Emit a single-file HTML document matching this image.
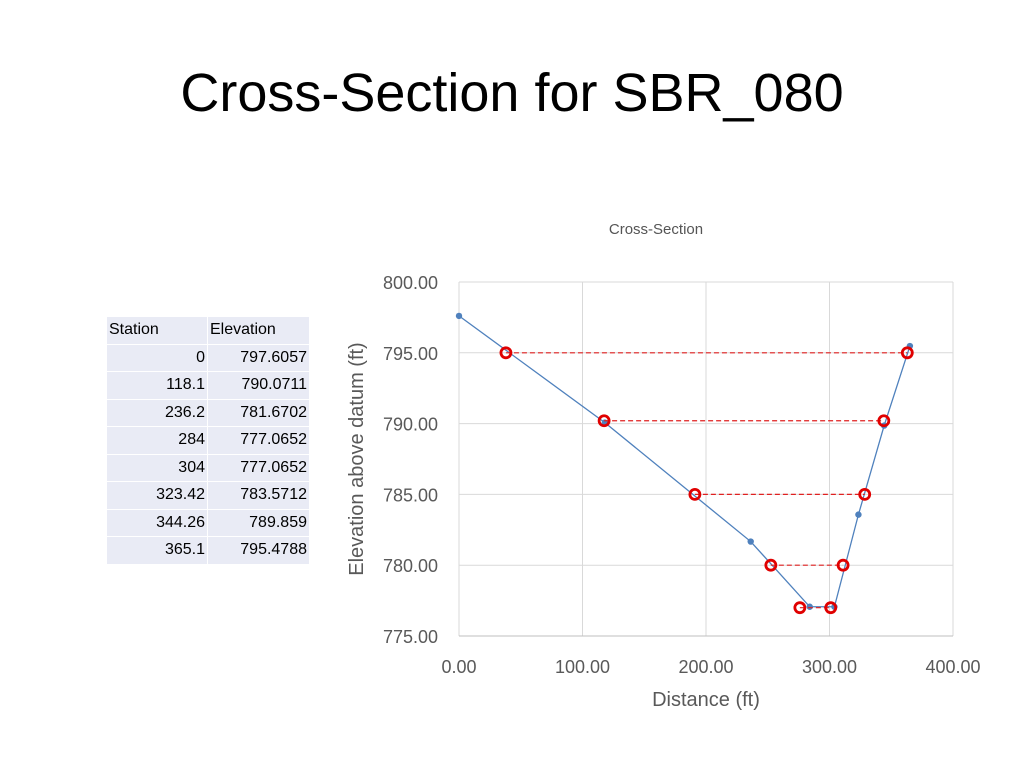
<!DOCTYPE html>
<html><head><meta charset="utf-8"><style>
body{margin:0;width:1024px;height:768px;background:#fff;font-family:"Liberation Sans",sans-serif;overflow:hidden;position:relative}
h1{position:absolute;left:0;width:1024px;top:62px;margin:0;text-align:center;font-weight:normal;font-size:54px;color:#000}
table{position:absolute;left:106px;top:316px;border-collapse:collapse;font-size:16px}
td{background:#e9ebf5;height:26.5px;padding:0 2px;border:1.5px solid #fff}
td.a{width:96px;text-align:right}td.b{width:97px;text-align:right}
tr.h td{text-align:left;background:#e9ebf5}
</style></head><body>
<h1>Cross-Section for SBR_080</h1>
<table>
<tr class="h"><td class="a" style="text-align:left">Station</td><td class="b" style="text-align:left">Elevation</td></tr>
<tr><td class="a">0</td><td class="b">797.6057</td></tr>
<tr><td class="a">118.1</td><td class="b">790.0711</td></tr>
<tr><td class="a">236.2</td><td class="b">781.6702</td></tr>
<tr><td class="a">284</td><td class="b">777.0652</td></tr>
<tr><td class="a">304</td><td class="b">777.0652</td></tr>
<tr><td class="a">323.42</td><td class="b">783.5712</td></tr>
<tr><td class="a">344.26</td><td class="b">789.859</td></tr>
<tr><td class="a">365.1</td><td class="b">795.4788</td></tr>
</table>
<svg id="chart" width="1024" height="768" style="position:absolute;left:0;top:0" font-family="Liberation Sans, sans-serif"></svg>
<script>
const stations=[0,118.1,236.2,284,304,323.42,344.26,365.1];
const elevations=[797.6057,790.0711,781.6702,777.0652,777.0652,783.5712,789.859,795.4788];
const waterLevels=[795,790.2,785,780,777];
const leftX=[38,117.5,191,252.5,276];
const rightX=[363,344,328.5,311,301];
const xTicks=[0,100,200,300,400];
const yTicks=[775,780,785,790,795,800];
const X=v=>459+(v-0)*(953-459)/400;
const Y=v=>636-(v-775)*(636-282)/25;
const svg=document.getElementById('chart');
const NS='http://www.w3.org/2000/svg';
function mk(t,a,txt){const e=document.createElementNS(NS,t);for(const k in a)e.setAttribute(k,a[k]);if(txt!==undefined)e.textContent=txt;svg.appendChild(e);return e;}
let e;
e=mk('text',{x:656,y:234,'text-anchor':'middle','font-size':15,fill:'#555'},'Cross-Section');


xTicks.forEach(t=>{
 e=mk('line',{x1:X(t),x2:X(t),y1:Y(800),y2:Y(775),stroke:'#d9d9d9'});
 
 
 e=mk('text',{x:X(t),y:673,'text-anchor':'middle','font-size':18,fill:'#595959'},t.toFixed(2));
 
 
});
yTicks.forEach(t=>{
 e=mk('line',{x1:X(0),x2:X(400),y1:Y(t),y2:Y(t),stroke:'#d9d9d9'});
 
 
 e=mk('text',{x:438,y:Y(t)+7,'text-anchor':'end','font-size':18,fill:'#595959'},t.toFixed(2));
 
 
});
e=mk('line',{x1:X(0),x2:X(400),y1:Y(775),y2:Y(775),stroke:'#bfbfbf'});


e=mk('text',{x:706,y:706,'text-anchor':'middle','font-size':20,fill:'#595959'},'Distance (ft)');


e=mk('text',{x:0,y:0,'text-anchor':'middle','font-size':20,fill:'#595959',transform:'translate(363,459) rotate(-90)'},'Elevation above datum (ft)');


e=mk('polyline',{points:stations.map((s,i)=>X(s)+','+Y(elevations[i])).join(' '),fill:'none',stroke:'#4f81bd','stroke-width':1.3});


stations.forEach((s,i)=>{
 e=mk('circle',{cx:X(s),cy:Y(elevations[i]),r:3.2,fill:'#4f81bd'});
 
 
});
waterLevels.forEach((w,i)=>{
 e=mk('line',{x1:X(leftX[i]),x2:X(rightX[i]),y1:Y(w),y2:Y(w),stroke:'#e02020','stroke-width':1.2,'stroke-dasharray':'5,3'});
 
 
 [leftX[i],rightX[i]].forEach(x=>{
  e=mk('circle',{cx:X(x),cy:Y(w),r:5,fill:'none',stroke:'#e00000','stroke-width':2.8});
  
  
 });
});
</script>
</body></html>
